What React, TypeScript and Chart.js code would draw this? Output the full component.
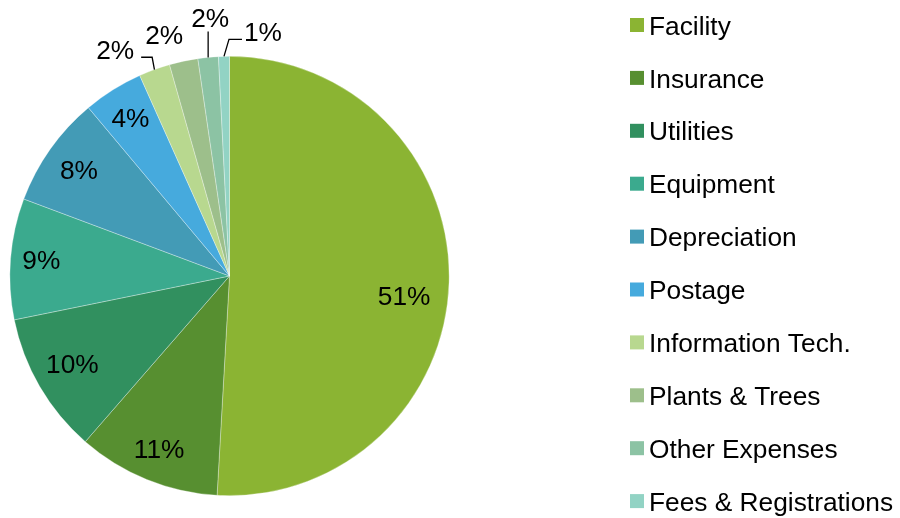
import React, { useEffect, useRef } from "react";
import { Chart, registerables } from "chart.js";

Chart.register(...registerables);

const categories = [
  "Facility",
  "Insurance",
  "Utilities",
  "Equipment",
  "Depreciation",
  "Postage",
  "Information Tech.",
  "Plants & Trees",
  "Other Expenses",
  "Fees & Registrations",
];

const values = [50.9, 10.5, 10.4, 8.9, 8.2, 4.4, 2.3, 2.1, 1.5, 0.8];

const colors = [
  "#8BB433",
  "#578F30",
  "#31905F",
  "#3BAA8E",
  "#439BB6",
  "#46AADD",
  "#B8D88F",
  "#9DBF8B",
  "#8CC3A4",
  "#92D3C4",
];

// label placement (layout only): inside labels in polar terms, outside labels as offsets from arc edge
type Placement =
  | { kind: "in"; r: number; da: number }
  | { kind: "out"; dx: number; dy: number; leader: [number, number][] };

const placements: Placement[] = [
  { kind: "in", r: 0.8, da: 4.9 },
  { kind: "in", r: 0.85, da: 0 },
  { kind: "in", r: 0.82, da: 1.0 },
  { kind: "in", r: 0.86, da: 0.6 },
  { kind: "in", r: 0.84, da: 0 },
  { kind: "in", r: 0.85, da: 0 },
  { kind: "out", dx: -39.3, dy: -20.3, leader: [[-2.3, -12.3], [-13.3, -12.3]] },
  { kind: "out", dx: -19.4, dy: -26.9, leader: [] },
  { kind: "out", dx: 2, dy: -40, leader: [[0, -26]] },
  { kind: "out", dx: 39, dy: -25, leader: [[5, -17], [18, -17]] },
];

const FONT = '"Liberation Sans", Arial, sans-serif';
const FONT_SIZE = 26.3;

const labelPlugin = {
  id: "pieLabels",
  afterDatasetsDraw(chart: any) {
    const ctx = chart.ctx;
    const meta = chart.getDatasetMeta(0);
    const data = chart.data.datasets[0].data as number[];
    const total = data.reduce((a: number, b: number) => a + b, 0);
    ctx.save();
    ctx.font = `${FONT_SIZE}px ${FONT}`;
    ctx.fillStyle = "#000";
    ctx.textAlign = "center";
    ctx.textBaseline = "alphabetic";
    meta.data.forEach((arc: any, i: number) => {
      const { x, y, startAngle, endAngle, outerRadius } = arc.getProps(
        ["x", "y", "startAngle", "endAngle", "outerRadius"],
        true
      );
      const mid = (startAngle + endAngle) / 2;
      const txt = Math.round((data[i] / total) * 100) + "%";
      const p = placements[i];
      let lx: number, ly: number;
      if (p.kind === "in") {
        const a = mid + (p.da * Math.PI) / 180;
        lx = x + Math.cos(a) * outerRadius * p.r;
        ly = y + Math.sin(a) * outerRadius * p.r;
      } else {
        const ex = x + Math.cos(mid) * outerRadius;
        const ey = y + Math.sin(mid) * outerRadius;
        lx = ex + p.dx;
        ly = ey + p.dy;
        if (p.leader.length) {
          ctx.beginPath();
          ctx.strokeStyle = "#000";
          ctx.lineWidth = 1.3;
          ctx.moveTo(ex, ey);
          p.leader.forEach(([ox, oy]) => ctx.lineTo(ex + ox, ey + oy));
          ctx.stroke();
        }
      }
      ctx.fillText(txt, lx, ly + 9.4);
    });
    ctx.restore();
  },
};

const legendPlugin = {
  id: "sideLegend",
  afterDraw(chart: any) {
    const ctx = chart.ctx;
    const labels = chart.data.labels as string[];
    const bg = chart.data.datasets[0].backgroundColor as string[];
    ctx.save();
    ctx.font = `${FONT_SIZE}px ${FONT}`;
    ctx.textAlign = "left";
    ctx.textBaseline = "alphabetic";
    labels.forEach((lab, i) => {
      const cy = 25 + 52.9 * i;
      ctx.fillStyle = bg[i];
      ctx.fillRect(630, cy - 7, 14, 14);
      ctx.fillStyle = "#000";
      ctx.fillText(lab, 649, cy + 9.6);
    });
    ctx.restore();
  },
};

export default function App() {
  const ref = useRef<HTMLCanvasElement | null>(null);
  useEffect(() => {
    if (!ref.current) return;
    const chart = new Chart(ref.current, {
      type: "pie",
      data: {
        labels: categories,
        datasets: [
          {
            data: values,
            backgroundColor: colors,
            borderColor: "rgba(255,255,255,0.45)",
            borderWidth: 0.7,
          },
        ],
      },
      options: {
        responsive: false,
        animation: false,
        layout: { padding: { left: 9.5, top: 56, right: 450.5, bottom: 22 } },
        plugins: {
          legend: { display: false },
          tooltip: { enabled: false },
          title: { display: false },
        },
      },
      plugins: [labelPlugin, legendPlugin],
    });
    return () => chart.destroy();
  }, []);
  return (
    <div style={{ position: "fixed", left: 0, top: 0, width: 900, height: 518, background: "#fff" }}>
      <canvas ref={ref} width={900} height={518} />
    </div>
  );
}
